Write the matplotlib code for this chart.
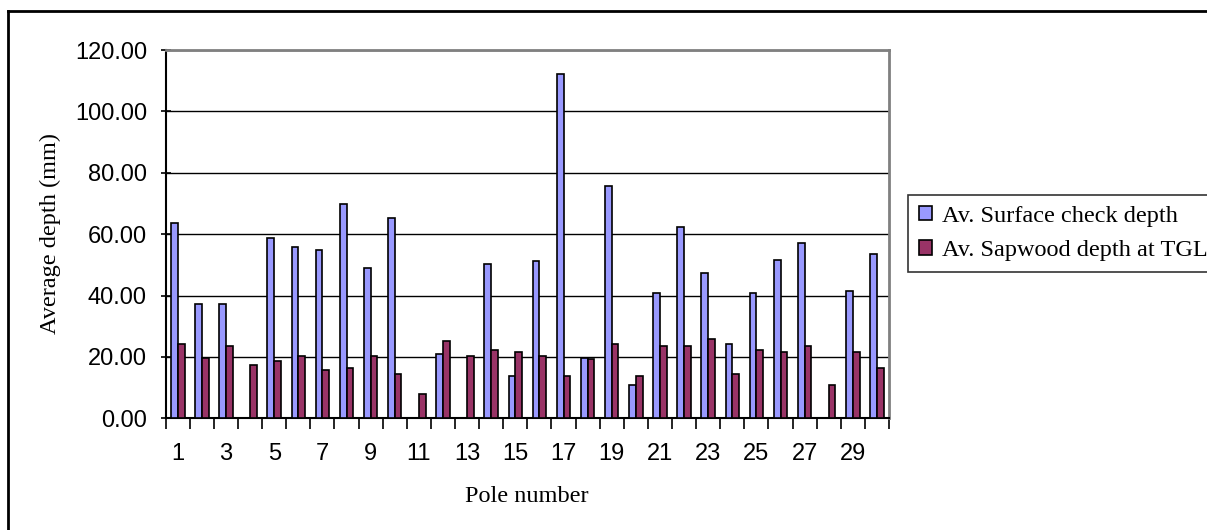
import numpy as np
import matplotlib
matplotlib.use("Agg")
import matplotlib.pyplot as plt
from matplotlib.lines import Line2D

poles = list(range(1, 31))
surface_check = [63.6, 37.2, 37.2, 0, 58.8, 55.9, 54.7, 69.7, 49.1, 65.3,
                 0, 21.1, 0, 50.4, 13.8, 51.1, 112.3, 19.8, 75.7, 10.8,
                 40.8, 62.3, 47.4, 24.1, 40.8, 51.6, 57.1, 0, 41.4, 53.4]
sapwood_tgl = [24.1, 19.8, 23.5, 17.4, 18.6, 20.4, 15.7, 16.3, 20.4, 14.5,
               7.8, 25.2, 20.4, 22.3, 21.6, 20.4, 13.8, 19.2, 24.1, 13.8,
               23.5, 23.5, 25.9, 14.5, 22.3, 21.6, 23.5, 10.8, 21.6, 16.3]
series_names = ["Av. Surface check depth", "Av. Sapwood depth at TGL"]

W, H = 1207, 530
fig = plt.figure(figsize=(W / 100, H / 100), dpi=100)
ax = fig.add_axes([165.7 / W, 1 - 418.3 / H, (889 - 165.7) / W, (418.3 - 50) / H])

x = np.arange(len(poles))
bw = 0.28
ax.bar(x - bw / 2, surface_check, bw, color="#9999FF", edgecolor="black",
       linewidth=1.2, label=series_names[0], zorder=3)
ax.bar(x + bw / 2, sapwood_tgl, bw, color="#993366", edgecolor="black",
       linewidth=1.2, label=series_names[1], zorder=3)

ax.set_xlim(-0.5, len(poles) - 0.5)
ax.set_ylim(0, 120)
ax.set_yticks(np.arange(0, 121, 20))
ax.set_yticklabels([f"{v:.2f}" for v in np.arange(0, 121, 20)],
                   family="Liberation Sans", fontsize=17)
ax.yaxis.grid(True, color="black", linewidth=1.0, zorder=0)
ax.set_axisbelow(True)

# category labels on odd poles, tick marks on the boundaries
ax.set_xticks(x, minor=True)
ax.set_xticks(np.arange(-0.5, len(poles), 1))
ax.set_xticklabels([])
ax.tick_params(axis="x", which="major", length=8, width=1.2, direction="out", color="black")
ax.tick_params(axis="x", which="minor", length=0, pad=18)
ax.set_xticklabels([str(p) if p % 2 == 1 else "" for p in poles], minor=True,
                   family="Liberation Sans", fontsize=17)
ax.tick_params(axis="y", length=7, width=1.2, direction="inout", pad=10, color="black")

for side in ("top", "right"):
    ax.spines[side].set_color("#808080")
    ax.spines[side].set_linewidth(2)
for side in ("left", "bottom"):
    ax.spines[side].set_color("black")
    ax.spines[side].set_linewidth(1.5)

fig.text(50 / W, 1 - 234 / H, "Average depth (mm)", rotation=90, ha="center",
         va="center", family="Liberation Serif", fontsize=17.5)
fig.text(527 / W, 1 - 497 / H, "Pole number", ha="center", va="center",
         family="Liberation Serif", fontsize=17.5)

leg = fig.legend(loc="upper left", bbox_to_anchor=(907.7 / W, 1 - 194.7 / H),
                 prop={"family": "Liberation Serif", "size": 17.5},
                 frameon=True, fancybox=False, edgecolor="black",
                 handlelength=0.55, handleheight=0.55, handletextpad=0.4,
                 borderpad=0.45, labelspacing=0.55, borderaxespad=0)
leg.get_frame().set_linewidth(1.2)

# chart border
fig.add_artist(Line2D([8 / W, 1], [1 - 11 / H, 1 - 11 / H], color="black",
                      linewidth=2, transform=fig.transFigure))
fig.add_artist(Line2D([8 / W, 8 / W], [0, 1 - 11 / H], color="black",
                      linewidth=2, transform=fig.transFigure))

fig.savefig("out.png", dpi=100)
